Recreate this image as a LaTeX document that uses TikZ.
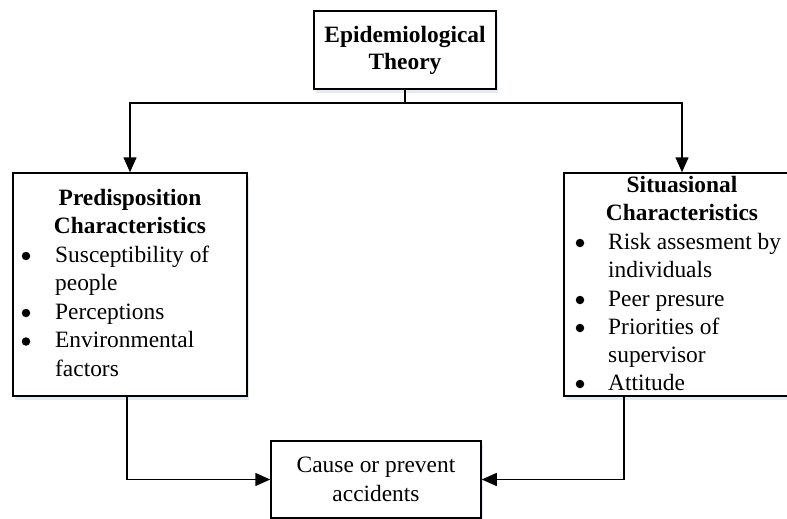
\documentclass[tikz,border=0pt]{standalone}
\usepackage{fontspec}
\setmainfont{Liberation Serif}
\usetikzlibrary{arrows.meta,shadows}
\begin{document}
\begin{tikzpicture}[x=1pt,y=-1pt,
  every node/.style={font=\fontsize{23.4}{28.5}\selectfont},
  boxstyle/.style={draw=black, line width=1.5pt, fill=white, inner sep=0pt,
    drop shadow={shadow xshift=2pt, shadow yshift=-4pt, fill={rgb,255:red,215;green,226;blue,240}, opacity=0.7}},
  conn/.style={line width=1.5pt},
  arr/.style={conn, -{Triangle[length=15pt,width=13pt]}},
  txt/.style={inner sep=0pt, anchor=base west},
  hd/.style={inner sep=0pt, anchor=base, font=\fontsize{23.4}{28.5}\selectfont\bfseries},
  bul/.style={circle, fill=black, inner sep=0pt, minimum size=8.5pt}
]
\useasboundingbox (0,0) rectangle (787,519);
\clip (0,0) rectangle (787,519);
% boxes
\node[boxstyle, minimum width=182pt, minimum height=78pt, align=center,
  font=\fontsize{23.4}{27}\selectfont\bfseries] (top) at (405,50) {Epidemiological\\Theory};
\node[boxstyle, minimum width=234pt, minimum height=223pt] (left) at (130,284.5) {};
\node[boxstyle, minimum width=236pt, minimum height=223pt] (right) at (682,284.5) {};
\node[boxstyle, minimum width=210pt, minimum height=77pt, align=center,
  font=\fontsize{23.4}{29}\selectfont] (bottom) at (376,479.5) {Cause or prevent\\accidents};
% left box text
\node[hd] (lh1) at (130,205) {Predisposition};
\node[hd] (lh2) at (130,233) {Characteristics};
\node[bul] (lb1) at (26,256) {};
\node[txt] (lt1) at (55,262) {Susceptibility of};
\node[txt] (lt2) at (55,290.5) {people};
\node[bul] (lb2) at (26,313) {};
\node[txt] (lt3) at (55,319) {Perceptions};
\node[bul] (lb3) at (26,341.5) {};
\node[txt] (lt4) at (55,347.5) {Environmental};
\node[txt] (lt5) at (55,376) {factors};
% right box text
\node[hd] (rh1) at (682,192) {Situasional};
\node[hd] (rh2) at (682,220) {Characteristics};
\node[bul] (rb1) at (580,243) {};
\node[txt] (rt1) at (608,249) {Risk assesment by};
\node[txt] (rt2) at (608,277) {individuals};
\node[bul] (rb2) at (580,300) {};
\node[txt] (rt3) at (608,306) {Peer presure};
\node[bul] (rb3) at (580,328) {};
\node[txt] (rt4) at (608,334) {Priorities of};
\node[txt] (rt5) at (608,362) {supervisor};
\node[bul] (rb4) at (580,384) {};
\node[txt] (rt6) at (608,390) {Attitude};
% connectors
\coordinate (j) at (405,103);
\draw[conn] (top.south) -- (j);
\draw[arr] (j) -| (left.north);
\draw[arr] (j) -| (right.north);
\coordinate (rs) at ([xshift=-58pt]right.south);
\draw[arr] ([xshift=-3pt]left.south) |- (bottom.west);
\draw[arr] (rs) |- (bottom.east);
\end{tikzpicture}
\end{document}
